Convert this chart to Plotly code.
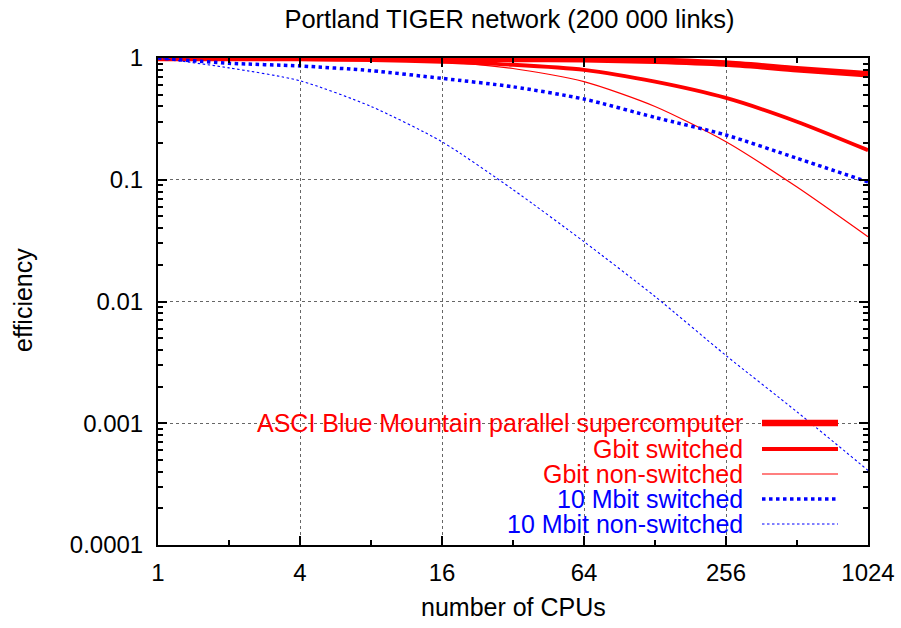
import plotly.graph_objects as go

# ---- data ----
cpus = [1, 2, 4, 8, 16, 32, 64, 128, 256, 512, 1024]
asci_blue = [1.0, 1.0, 0.998, 0.995, 0.99, 0.983, 0.975, 0.95, 0.90, 0.81, 0.735]
gbit_switched = [1.0, 0.99, 0.98, 0.96, 0.93, 0.88, 0.80, 0.64, 0.47, 0.30, 0.175]
gbit_nonswitched = [1.0, 0.995, 0.985, 0.965, 0.93, 0.82, 0.64, 0.40, 0.205, 0.087, 0.034]
mbit_switched = [1.0, 0.905, 0.86, 0.787, 0.68, 0.58, 0.46, 0.325, 0.233, 0.15, 0.096]
mbit_nonswitched = [1.0, 0.83, 0.65, 0.40, 0.205, 0.083, 0.031, 0.011, 0.0036, 0.00124, 0.00041]

series_names = ["ASCI Blue Mountain parallel supercomputer", "Gbit switched",
                "Gbit non-switched", "10 Mbit switched", "10 Mbit non-switched"]
series_values = [asci_blue, gbit_switched, gbit_nonswitched, mbit_switched, mbit_nonswitched]

x_ticks = [1, 4, 16, 64, 256, 1024]
x_ticklabels = ["1", "4", "16", "64", "256", "1024"]
x_minor = [2, 8, 32, 128, 512]
y_ticks = [0.0001, 0.001, 0.01, 0.1, 1]
y_ticklabels = ["0.0001", "0.001", "0.01", "0.1", "1"]

title_text = "Portland TIGER network (200 000 links)"
x_title = "number of CPUs"
y_title = "efficiency"

# ---- styles ----
RED = "#ff0000"
BLUE = "#0000ff"
styles = [
    dict(color=RED, width=6.5, dash="solid"),
    dict(color=RED, width=3.8, dash="solid"),
    dict(color=RED, width=1.2, dash="solid"),
    dict(color=BLUE, width=3.5, dash="dot"),
    dict(color=BLUE, width=1.1, dash="2.5px,2.5px"),
]
FONT = "Liberation Sans, Arial, sans-serif"
FS_TICK = 24
FS_TEXT = 25

fig = go.Figure()
for name, vals, st in zip(series_names, series_values, styles):
    fig.add_trace(go.Scatter(x=cpus, y=vals, mode="lines", name=name,
                             line=dict(color=st["color"], width=st["width"],
                                       dash=st["dash"], shape="spline", smoothing=0.7),
                             showlegend=False))

y_minor = [m * 10 ** e for e in range(-4, 0) for m in range(2, 10)]

L, R, T, B = 158, 33, 58, 83
W, H = 901, 628
pw, ph = W - L - R, H - T - B

def px2x(px):
    return (px - L) / pw

def px2y(py):
    return (H - B - py) / ph

shapes = [dict(type="rect", xref="paper", yref="paper",
               x0=px2x(160), x1=px2x(852), y0=px2y(543), y1=px2y(410),
               fillcolor="white", line=dict(width=0), layer="between")]
annotations = []
row_y = [423, 449, 474, 499, 524]
for name, st, ry in zip(series_names, styles, row_y):
    annotations.append(dict(text=name, xref="paper", yref="paper",
                            x=px2x(745), y=px2y(ry), xanchor="right", yanchor="middle",
                            showarrow=False, font=dict(family=FONT, size=FS_TEXT, color=st["color"])))
    shapes.append(dict(type="line", xref="paper", yref="paper",
                       x0=px2x(762), x1=px2x(838), y0=px2y(ry), y1=px2y(ry),
                       line=dict(color=st["color"], width=st["width"], dash=st["dash"]),
                       layer="above"))

# axis titles
annotations.append(dict(text=x_title, xref="paper", yref="paper", x=px2x(513), y=px2y(607),
                        xanchor="center", yanchor="middle", showarrow=False,
                        font=dict(family=FONT, size=FS_TEXT, color="black")))
annotations.append(dict(text=y_title, xref="paper", yref="paper", x=px2x(23), y=px2y(300),
                        xanchor="center", yanchor="middle", showarrow=False, textangle=-90,
                        font=dict(family=FONT, size=FS_TEXT, color="black")))

axis_common = dict(showline=True, linecolor="black", linewidth=2, mirror="allticks",
                   ticks="inside", ticklen=9, tickwidth=1.5, tickcolor="black",
                   showgrid=True, gridcolor="#666666", griddash="dot", gridwidth=1,
                   zeroline=False, automargin=False,
                   tickfont=dict(family=FONT, size=FS_TICK, color="black"))

fig.update_layout(
    width=W, height=H,
    margin=dict(l=L, r=R, t=T, b=B, autoexpand=False),
    paper_bgcolor="white", plot_bgcolor="white",
    title=dict(text=title_text, x=509.5 / W,
               xanchor="center", y=1 - 19 / H, yanchor="middle",
               font=dict(family=FONT, size=FS_TEXT + 0.5, color="black"), automargin=False),
    xaxis=dict(type="log", range=[0, 3.0103], tickmode="array",
               tickvals=x_ticks, ticktext=x_ticklabels,
               minor=dict(tickmode="array", tickvals=x_minor, ticks="inside", ticklen=5,
                          tickwidth=1.5, tickcolor="black", showgrid=False),
               ticklabelstandoff=5,
               **axis_common),
    yaxis=dict(type="log", range=[-4, 0], tickmode="array",
               tickvals=y_ticks, ticktext=y_ticklabels,
               minor=dict(tickmode="array", tickvals=y_minor, ticks="inside", ticklen=5,
                          tickwidth=1.5, tickcolor="black", showgrid=False),
               ticklabelstandoff=8,
               **axis_common),
    shapes=shapes,
    annotations=annotations,
)

fig.write_html("out.html")
